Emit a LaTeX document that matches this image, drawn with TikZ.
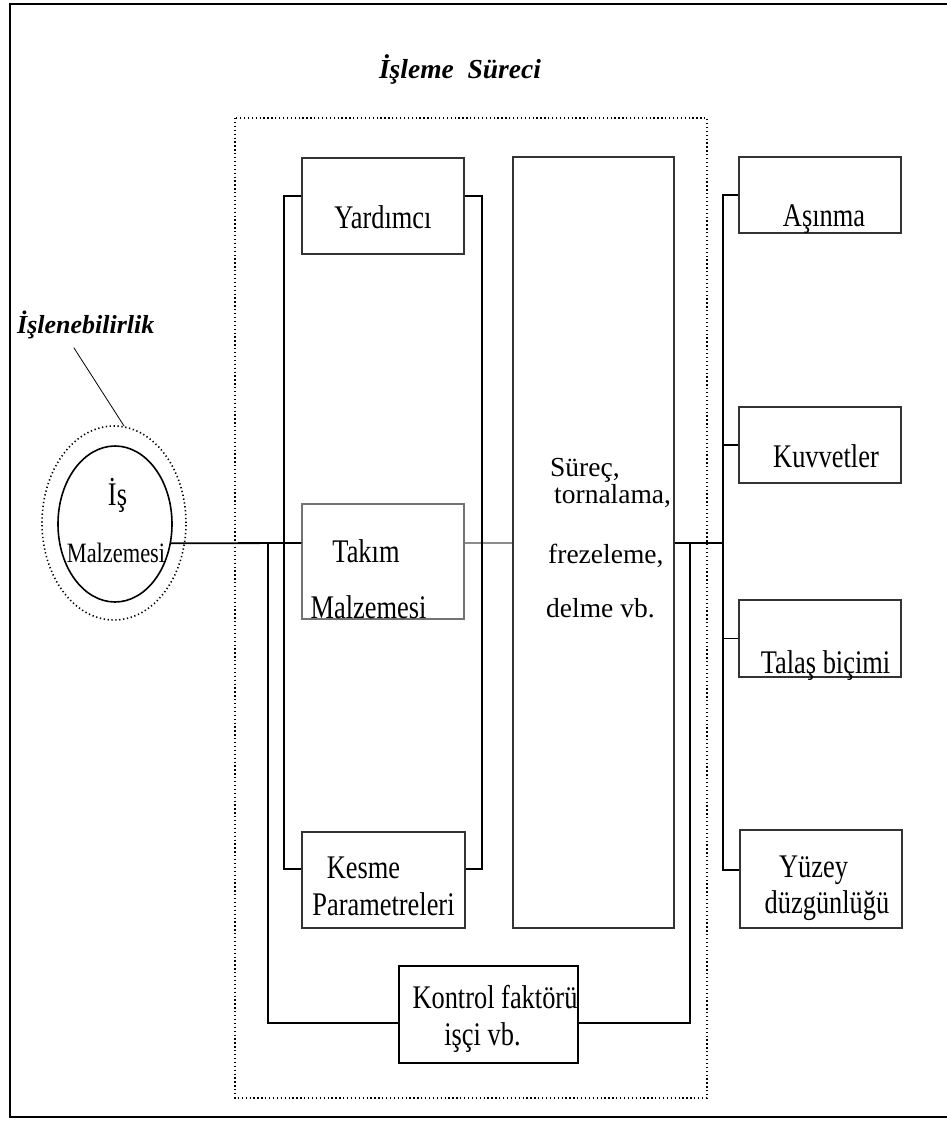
\documentclass[tikz,border=0pt]{standalone}
\usepackage{fontspec}
\setmainfont{Liberation Serif}
\newfontfamily\narrowfont{Liberation Serif}[FakeStretch=0.8]
\usepackage{tikz}
\usetikzlibrary{shapes.geometric}
\tikzset{
  box/.style={draw=black!80, line width=1.3pt, inner sep=0pt, minimum width=162pt},
  conn/.style={line width=1.8pt},
  txt/.style={font=\narrowfont\fontsize{33}{36}\selectfont, inner sep=0pt, anchor=base},
  stxt/.style={font=\fontsize{27.5}{30}\selectfont, inner sep=0pt, anchor=base west},
  ttl/.style={font=\fontsize{27.5}{30}\selectfont\bfseries\itshape, inner sep=0pt, anchor=base},
  dots/.style={line width=1.3pt, dash pattern=on 1.3pt off 2.6pt}
}

\begin{document}
\begin{tikzpicture}[x=1pt, y=-1pt]
\useasboundingbox (0,0) rectangle (947,1122);
% frame
\draw[line width=2.2pt] (947,4) -- (10,4) -- (10,1117) -- (947,1117);
\node[ttl] (title) at (460,78) {İşleme\enspace Süreci};
\draw[dots] (235,118) rectangle (707,1098);

% work material
\node[draw, ellipse, line width=1.6pt, minimum width=114pt, minimum height=156pt, inner sep=0pt] (is) at (115,524) {};
\node[ellipse, draw, dots, line width=1.6pt, minimum width=144pt, minimum height=194pt, inner sep=0pt] (isout) at (114,523) {};
\node[txt] (isT) at (117.5,505) {İş};
\node[txt, font=\narrowfont\fontsize{28}{30}\selectfont] (isM) at (116,562) {Malzemesi};
\node[ttl, anchor=base west, font=\fontsize{26}{28}\selectfont\bfseries\itshape] (isl) at (17,333) {İşlenebilirlik};
\draw[line width=0.8pt] (isl.south) ++(-12,9) -- (isout.84);

% inputs
\node[box, minimum height=96pt] (yard) at (383,206) {};
\node[box, draw=black!55, minimum height=115pt] (takim) at (383,561.5) {};
\node[box, minimum height=96pt, minimum width=163pt] (kesme) at (383.5,880) {};
\node[box, line width=1.1pt, minimum width=161pt, minimum height=771pt] (surec) at (593.5,542.5) {};
\node[box, draw=black, line width=2pt, minimum width=179pt, minimum height=97pt] (kontrol) at (488.5,1014.5) {};
\node[txt] (yardT) at (383,228) {Yardımcı};
\node[txt] (takimT) at (366,562) {Takım};
\node[txt] (takimM) at (368.5,618) {Malzemesi};
\node[txt] (kesmeT) at (363.5,878) {Kesme};
\node[txt] (kesmeP) at (383.5,915) {Parametreleri};
\node[txt] (kontrolT) at (495,1008) {Kontrol faktörü};
\node[txt] (kontrolI) at (482.5,1045) {işçi vb.};
\node[stxt] (surecA) at (550,476) {Süreç,};
\node[stxt] (surecB) at (554,503) {tornalama,};
\node[stxt] (surecC) at (548,563) {frezeleme,};
\node[stxt] (surecD) at (546,617) {delme vb.};

% outputs
\node[box, minimum height=76pt] (asinma) at (820,195) {};
\node[box, minimum height=76pt] (kuvvet) at (820,445) {};
\node[box, minimum height=77pt] (talas) at (820,638.5) {};
\node[box, minimum height=98pt] (yuzey) at (821,879) {};
\node[txt] (asinmaT) at (824,226) {Aşınma};
\node[txt] (kuvvetT) at (826,467) {Kuvvetler};
\node[txt] (talasT) at (825.5,673) {Talaş biçimi};
\node[txt] (yuzeyT) at (813.5,877) {Yüzey};
\node[txt] (yuzeyD) at (827,913) {düzgünlüğü};

% connectors
\coordinate (hubL) at (268,543);
\coordinate (hubR) at (690,543);
\coordinate (colR) at (723,543);
\draw[conn] (is.-19) -- (takim.west |- hubL);
\draw[draw=black!45, line width=1.2pt] (takim.east |- hubL) -- (surec.west |- hubL);
\draw[conn] (surec.east |- hubR) -- (colR);
\draw[conn] ([yshift=10pt]yard.west) -- ++(-17,0) |- ([yshift=11pt]kesme.west);
\draw[conn] ([yshift=10pt]yard.east) -- ++(17,0) |- ([yshift=11pt]kesme.east);
\draw[conn] (hubL) |- ([yshift=-8.5pt]kontrol.west);
\draw[conn] (hubR) |- ([yshift=-8.5pt]kontrol.east);
\draw[conn] (asinma.west) -- ++(-15,0) |- ([yshift=9pt]yuzey.west);
\draw[conn] (kuvvet.west) -- ++(-15,0);
\draw[conn] (talas.west) -- ++(-15,0);
\end{tikzpicture}
\end{document}
